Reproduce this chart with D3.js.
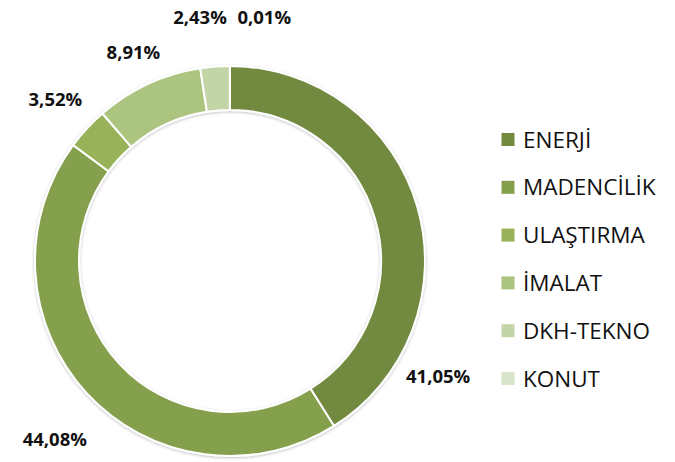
<!DOCTYPE html>
<html>
<head>
<meta charset="utf-8">
<title>Donut</title>
<style>
  body { margin: 0; background: #fff; }
  .lbl { font: bold 18.5px "Open Sans", sans-serif; fill: #111; text-anchor: middle; }
  .leg text { font: 22.5px "Open Sans", sans-serif; fill: #111; }
</style>
</head>
<body>
<svg id="chart"></svg>
<script src="https://cdn.jsdelivr.net/npm/d3@7"></script>
<script>
"use strict";

// data
var sectors = ["ENERJİ", "MADENCİLİK", "ULAŞTIRMA", "İMALAT", "DKH-TEKNO", "KONUT"];
var shares  = [41.05, 44.08, 3.52, 8.91, 2.43, 0.01];
var labels  = ["41,05%", "44,08%", "3,52%", "8,91%", "2,43%", "0,01%"];
var colors  = ["#728a3f", "#85a04d", "#97b259", "#abc47f", "#c2d5a7", "#d8e4cb"];

var totalWidth = 675, totalHeight = 462;

var svg = d3.select("#chart")
    .attr("width", totalWidth)
    .attr("height", totalHeight);

var cx = 230, cy = 261,
    outerR = 195, innerR = 151;

// soft shadow like the excel original
var defs = svg.append("defs");
var f = defs.append("filter").attr("id", "shadow")
    .attr("x", "-10%").attr("y", "-10%").attr("width", "120%").attr("height", "120%");
f.append("feDropShadow").attr("dx", 0).attr("dy", 1).attr("stdDeviation", 1.5)
    .attr("flood-color", "#000").attr("flood-opacity", 0.25);

var g = svg.append("g")
    .attr("transform", "translate(" + cx + "," + cy + ")");

var pie = d3.pie().sort(null).value(function(d) { return d; });
var arcs = pie(shares);

var arc = d3.arc().innerRadius(innerR).outerRadius(outerR);

g.append("g").attr("filter", "url(#shadow)")
  .selectAll("path")
    .data(arcs)
  .enter().append("path")
    .attr("d", arc)
    .attr("fill", function(d, i) { return colors[i]; })
    .attr("stroke", "#fff")
    .attr("stroke-width", 2);

// labels were dragged by hand in the original, so some angles/radii are overridden
var labelAngle = {0: 119, 1: 224.5, 4: -7, 5: 8};   // degrees, clockwise from top
var labelRadius = [238, 250, 238, 230, 246, 246];

g.selectAll(".lbl")
    .data(arcs)
  .enter().append("text")
    .attr("class", "lbl")
    .attr("dy", "0.36em")
    .attr("transform", function(d, i) {
      var a = labelAngle[i] != null ? labelAngle[i] * Math.PI / 180 : (d.startAngle + d.endAngle) / 2;
      var r = labelRadius[i];
      return "translate(" + (r * Math.sin(a)) + "," + (-r * Math.cos(a)) + ")";
    })
    .text(function(d, i) { return labels[i]; });

// legend
var ly = d3.scalePoint().domain(sectors).range([139.5, 378.5]);

var leg = svg.append("g").attr("class", "leg")
  .selectAll("g")
    .data(sectors)
  .enter().append("g")
    .attr("transform", function(d) { return "translate(501.5," + ly(d) + ")"; });

leg.append("rect")
    .attr("x", 0).attr("y", -6.5)
    .attr("width", 13).attr("height", 13)
    .attr("fill", function(d, i) { return colors[i]; });

leg.append("text")
    .attr("x", 21.5)
    .attr("dy", "0.36em")
    .text(function(d) { return d; });
</script>
</body>
</html>
